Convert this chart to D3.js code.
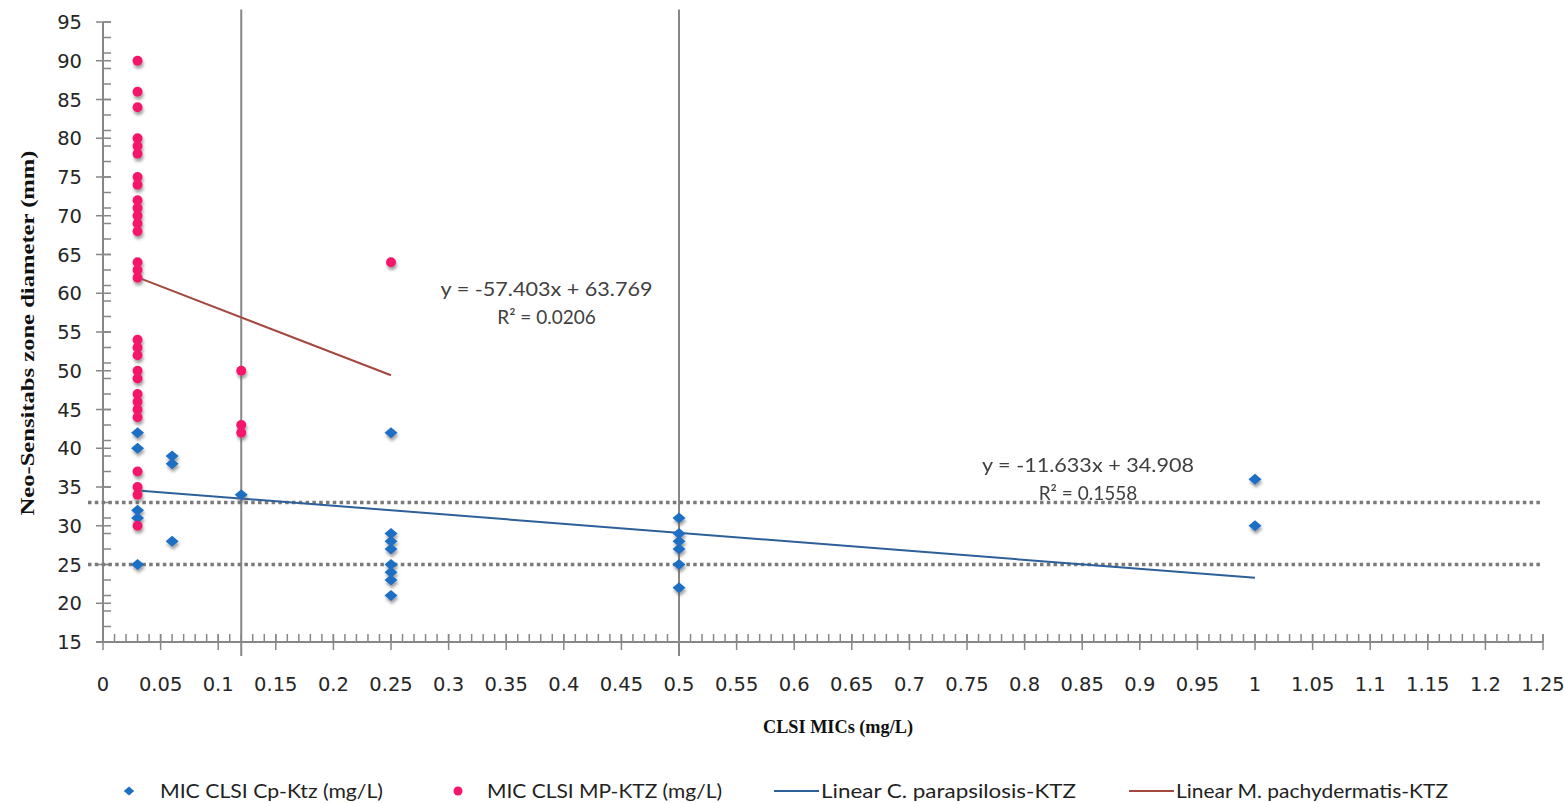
<!DOCTYPE html>
<html>
<head>
<meta charset="utf-8">
<script src="https://cdn.jsdelivr.net/npm/d3@7"></script>
<style>
	html, body { margin: 0; padding: 0; background: #fff; }
	svg { display: block; }
</style>
</head>
<body>
<div id="viz"><svg width="1564" height="803"></svg></div>
<script>
// MIC values (mg/L) and zone diameters (mm)
const cpX = [0.03, 0.03, 0.03, 0.03, 0.03, 0.06, 0.06, 0.06, 0.12, 0.25, 0.25, 0.25, 0.25, 0.25, 0.25, 0.25, 0.25, 0.5, 0.5, 0.5, 0.5, 0.5, 0.5, 1, 1];
const cpY = [42, 40, 32, 31, 25, 39, 38, 28, 34, 42, 29, 28, 27, 25, 24, 23, 21, 31, 29, 28, 27, 25, 22, 36, 30];

const mpX = [0.03, 0.03, 0.03, 0.03, 0.03, 0.03, 0.03, 0.03, 0.03, 0.03, 0.03, 0.03, 0.03, 0.03, 0.03, 0.03, 0.03, 0.03, 0.03, 0.03, 0.03, 0.03, 0.03, 0.03, 0.03, 0.03, 0.03, 0.03, 0.03, 0.12, 0.12, 0.12, 0.25];
const mpY = [90, 86, 84, 80, 79, 78, 75, 74, 72, 71, 70, 69, 68, 64, 63, 62, 54, 53, 52, 50, 49, 47, 46, 45, 44, 37, 35, 34, 30, 50, 43, 42, 64];

// trend lines: slope, intercept, x range, label
const trendNames = ['Linear C. parapsilosis-KTZ', 'Linear M. pachydermatis-KTZ'];
const trendSlope = [-11.633, -57.403];
const trendIntercept = [34.908, 63.769];
const trendFrom = [0.03, 0.03];
const trendTo = [1, 0.25];
const trendEq = ['y = -11.633x + 34.908', 'y = -57.403x + 63.769'];
const trendR2 = ['0.1558', '0.0206'];
const eqAt = [[0.855, 36.9], [0.385, 59.6]];

// reference lines
const vLines = [0.12, 0.5];
const hLines = [25, 33];

const xTicks = d3.range(0, 1.2501, 0.05);
const yTicks = d3.range(15, 95.01, 5);
const xMinor = d3.range(0, 1.2501, 0.01);
const yMinor = d3.range(15, 95.01, 2);

const legendNames = ['MIC CLSI Cp-Ktz (mg/L)', 'MIC CLSI MP-KTZ (mg/L)', trendNames[0], trendNames[1]];

const svg = d3.select('#viz svg');
const x = d3.scaleLinear().domain([0, 1.25]).range([103, 1543]);
const y = d3.scaleLinear().domain([15, 95]).range([642, 22]);

const blue = '#1c6fc3';
const pink = '#f5156c';
const lineBlue = '#2d5f98';
const lineRed = '#a4473f';
const axisGrey = '#878787';

const defs = svg.append('defs');
defs.append('filter')
	.attr('id', 'shadow')
	.attr('x', '-50%').attr('y', '-50%').attr('width', '200%').attr('height', '200%')
	.append('feDropShadow')
		.attr('dx', 1).attr('dy', 3)
		.attr('stdDeviation', 1.8)
		.attr('flood-color', '#666')
		.attr('flood-opacity', 0.6);

const diamond = {
	draw (ctx, size) {
		const w = 6.5, h = 5.5;
		ctx.moveTo(0, -h);
		ctx.lineTo(w, 0);
		ctx.lineTo(0, h);
		ctx.lineTo(-w, 0);
		ctx.closePath();
	}
};

// vertical reference lines
svg.append('g')
	.selectAll('line')
	.data(vLines)
	.enter()
		.append('line')
		.attr('x1', d => x(d)).attr('x2', d => x(d))
		.attr('y1', y(96.6)).attr('y2', y(13.2))
		.attr('stroke', axisGrey)
		.attr('stroke-width', 2);

// axes
const tickFont = 'DejaVu Sans, Verdana, sans-serif';
const axes = svg.append('g');

axes.append('line')
	.attr('x1', x(0)).attr('x2', x(0))
	.attr('y1', y(95)).attr('y2', y(15))
	.attr('stroke', axisGrey).attr('stroke-width', 2);
axes.append('line')
	.attr('x1', x(0) - 7).attr('x2', x(1.25))
	.attr('y1', y(15)).attr('y2', y(15))
	.attr('stroke', axisGrey).attr('stroke-width', 2);

axes.selectAll('.ymin')
	.data(yMinor)
	.enter()
		.append('line')
		.attr('x1', x(0)).attr('x2', x(0) + 8)
		.attr('y1', d => y(d)).attr('y2', d => y(d))
		.attr('stroke', axisGrey).attr('stroke-width', 1.5);
axes.selectAll('.ymaj')
	.data(yTicks)
	.enter()
		.append('line')
		.attr('x1', x(0) - 7).attr('x2', x(0) + 8)
		.attr('y1', d => y(d)).attr('y2', d => y(d))
		.attr('stroke', axisGrey).attr('stroke-width', 1.5);
axes.selectAll('.xmin')
	.data(xMinor)
	.enter()
		.append('line')
		.attr('x1', d => x(d)).attr('x2', d => x(d))
		.attr('y1', y(15) - 8).attr('y2', y(15))
		.attr('stroke', axisGrey).attr('stroke-width', 1.5);
axes.selectAll('.xmaj')
	.data(xTicks)
	.enter()
		.append('line')
		.attr('x1', d => x(d)).attr('x2', d => x(d))
		.attr('y1', y(15) - 8).attr('y2', y(15) + 8)
		.attr('stroke', axisGrey).attr('stroke-width', 1.5);

axes.selectAll('.ylab')
	.data(yTicks)
	.enter()
		.append('text')
		.attr('x', 82)
		.attr('y', d => y(d) + 7)
		.attr('text-anchor', 'end')
		.style('font-family', tickFont)
		.style('font-size', '19.5px')
		.style('fill', '#262626')
		.text(d => d);

axes.selectAll('.xlab')
	.data(xTicks)
	.enter()
		.append('text')
		.attr('x', d => x(d))
		.attr('y', 691)
		.attr('text-anchor', 'middle')
		.style('font-family', tickFont)
		.style('font-size', '19.5px')
		.style('fill', '#262626')
		.text(d => d3.format('')(+d.toFixed(2)));

// horizontal dotted breakpoints
svg.append('g')
	.selectAll('line')
	.data(hLines)
	.enter()
		.append('line')
		.attr('x1', 88).attr('x2', x(1.25))
		.attr('y1', d => y(d)).attr('y2', d => y(d))
		.attr('stroke', '#7a7a7a')
		.attr('stroke-width', 3.5)
		.attr('stroke-dasharray', '3.5,3.3');

// trend lines
const trendColor = [lineBlue, lineRed];
svg.append('g')
	.selectAll('line')
	.data(trendSlope)
	.enter()
		.append('line')
		.attr('x1', (d, i) => x(trendFrom[i]))
		.attr('x2', (d, i) => x(trendTo[i]))
		.attr('y1', (d, i) => y(d * trendFrom[i] + trendIntercept[i]))
		.attr('y2', (d, i) => y(d * trendTo[i] + trendIntercept[i]))
		.attr('stroke', (d, i) => trendColor[i])
		.attr('stroke-width', 2);

// points
svg.append('g')
	.attr('filter', 'url(#shadow)')
	.selectAll('path')
	.data(cpY)
	.enter()
		.append('path')
		.attr('d', d3.symbol(diamond))
		.attr('transform', (d, i) => `translate(${x(cpX[i])},${y(d)})`)
		.style('fill', blue);

svg.append('g')
	.attr('filter', 'url(#shadow)')
	.selectAll('circle')
	.data(mpY)
	.enter()
		.append('circle')
		.attr('cx', (d, i) => x(mpX[i]))
		.attr('cy', d => y(d))
		.attr('r', 5)
		.style('fill', pink);

// equations
const labelFont = 'Lato, "Open Sans", sans-serif';
const eq = svg.append('g')
	.selectAll('g')
	.data(trendEq)
	.enter()
		.append('g')
		.attr('transform', (d, i) => `translate(${x(eqAt[i][0])},${y(eqAt[i][1])})`);
eq.append('text')
	.attr('text-anchor', 'middle')
	.attr('textLength', 212)
	.attr('lengthAdjust', 'spacingAndGlyphs')
	.style('font-family', labelFont)
	.style('font-size', '19px')
	.style('fill', '#404040')
	.text(d => d);
eq.append('text')
	.attr('y', 28)
	.attr('text-anchor', 'middle')
	.style('font-family', labelFont)
	.style('font-size', '19px')
	.style('fill', '#404040')
	.text((d, i) => 'R² = ' + trendR2[i]);

// axis titles
const titleFont = '"Liberation Serif", "Times New Roman", serif';
svg.append('text')
	.attr('transform', 'translate(34,333) rotate(-90)')
	.attr('text-anchor', 'middle')
	.attr('textLength', 365)
	.attr('lengthAdjust', 'spacingAndGlyphs')
	.style('font-family', titleFont)
	.style('font-weight', 'bold')
	.style('font-size', '19px')
	.style('fill', '#111')
	.text('Neo-Sensitabs zone diameter (mm)');

svg.append('text')
	.attr('x', 838)
	.attr('y', 733)
	.attr('text-anchor', 'middle')
	.attr('textLength', 150)
	.attr('lengthAdjust', 'spacingAndGlyphs')
	.style('font-family', titleFont)
	.style('font-weight', 'bold')
	.style('font-size', '19px')
	.style('fill', '#111')
	.text('CLSI MICs (mg/L)');

// legend
const legendX = [160, 487, 821, 1176];
const legendW = [223, 235, 255, 272];
const legendY = 791;
const legend = svg.append('g');

legend.append('path')
	.attr('d', d3.symbol(diamond))
	.attr('transform', `translate(129,${legendY}) scale(0.8)`)
	.style('fill', blue);
legend.append('circle')
	.attr('cx', 458).attr('cy', legendY).attr('r', 4.5)
	.style('fill', pink);
legend.selectAll('line')
	.data([lineBlue, lineRed])
	.enter()
		.append('line')
		.attr('x1', (d, i) => legendX[i + 2] - 47)
		.attr('x2', (d, i) => legendX[i + 2] - 2)
		.attr('y1', legendY).attr('y2', legendY)
		.attr('stroke', d => d)
		.attr('stroke-width', 2);
legend.selectAll('text')
	.data(legendNames)
	.enter()
		.append('text')
		.attr('x', (d, i) => legendX[i])
		.attr('y', legendY + 7)
		.attr('textLength', (d, i) => legendW[i])
		.attr('lengthAdjust', 'spacingAndGlyphs')
		.style('font-family', labelFont)
		.style('font-size', '19px')
		.style('fill', '#222')
		.text(d => d);
</script>
</body>
</html>
